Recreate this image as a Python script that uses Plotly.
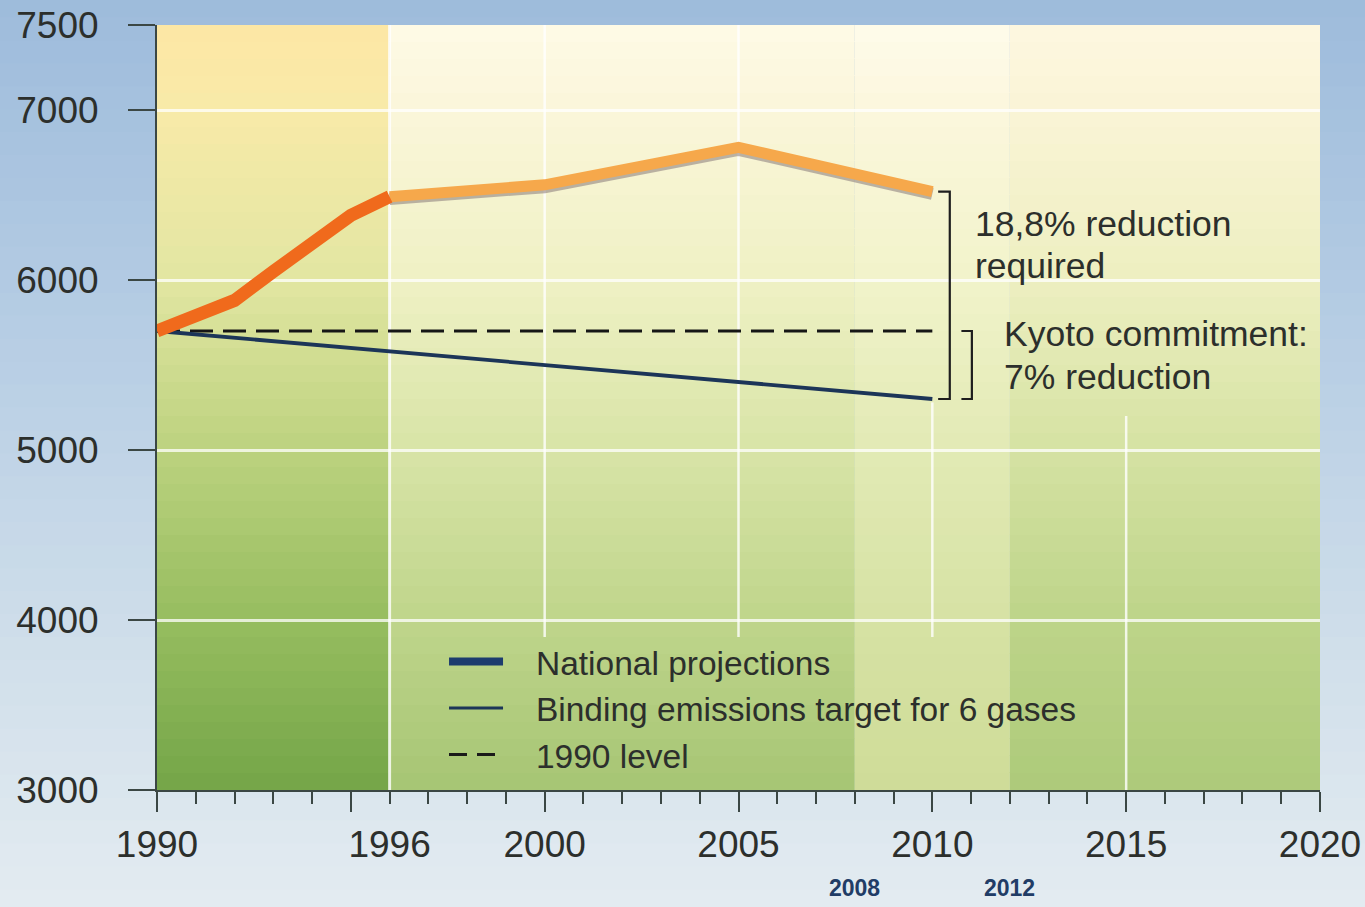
import plotly.graph_objects as go

# Greenhouse-gas emissions, Mt CO2-equivalent
HIST_YEARS = [1990, 1991, 1992, 1993, 1994, 1995, 1996]
HIST_VALUES = [5700, 5800, 5880, 6050, 6220, 6380, 6490]
PROJ_YEARS = [1996, 2000, 2005, 2010]
PROJ_VALUES = [6490, 6560, 6780, 6520]
TARGET_YEARS = [1990, 2010]
TARGET_VALUES = [5700, 5300]
BASE_YEARS = [1990, 2010]
BASE_VALUES = [5700, 5700]

X_LABEL_YEARS = [1990, 1996, 2000, 2005, 2010, 2015, 2020]
X_MAJOR_TICKS = [1990, 1995, 2000, 2005, 2010, 2015, 2020]
Y_TICKS = [3000, 4000, 5000, 6000, 7000, 7500]
PERIOD_YEARS = [2008, 2012]

LEGEND_NAMES = ["National projections", "Binding emissions target for 6 gases", "1990 level"]
NOTE_REQUIRED = ["18,8% reduction", "required"]
NOTE_KYOTO = ["Kyoto commitment:", "7% reduction"]

X_RANGE = [1990, 2020]
Y_RANGE = [3000, 7500]

FONT = "Liberation Sans, Arial, sans-serif"
TEXT = "#2c2f2c"
AXIS = "#3b4744"
NAVY = "#1c3558"
KEY_GAP = "\u00a0\u00a0\u00a0"  # space between legend key and its label

# vertical colour gradients of the plot background, one per period band
BANDS = [
    (1990, 1996, [(3000, "#74a548"), (4000, "#96bd5f"), (5000, "#bcd27f"),
                  (6000, "#e2e6a2"), (7000, "#f8eaa8"), (7500, "#fde7a5")]),
    (1996, 2008, [(3000, "#a6c574"), (4000, "#bfd58b"), (5000, "#d8e4a7"),
                  (6000, "#eff1c4"), (7000, "#fbf6da"), (7500, "#fefae6")]),
    (2008, 2012, [(3000, "#cfdc98"), (4000, "#d6e2a4"), (5000, "#e2eab5"),
                  (6000, "#f1f3ca"), (7000, "#fcf7dd"), (7500, "#fefbea")]),
    (2012, 2020, [(3000, "#adca7a"), (4000, "#bdd489"), (5000, "#d5e2a3"),
                  (6000, "#edefc0"), (7000, "#faf4d6"), (7500, "#fdf7e0")]),
]
PAGE_STOPS = [(-0.16, "#e4ecf1"), (0.2, "#cfdeea"), (0.6, "#b6cde4"), (1.04, "#9dbbdb")]


def hex_rgb(h):
    h = h.lstrip("#")
    return [int(h[i:i + 2], 16) for i in (0, 2, 4)]


def blend(stops, v):
    for (a, ca), (b, cb) in zip(stops, stops[1:]):
        if a <= v <= b:
            t = (v - a) / (b - a)
            c0, c1 = hex_rgb(ca), hex_rgb(cb)
            return "rgb({},{},{})".format(*[round(p + (q - p) * t) for p, q in zip(c0, c1)])
    return stops[-1][1] if v > stops[-1][0] else stops[0][1]


shapes = []

# page background (blue wash behind everything)
n_page = 40
lo, hi = PAGE_STOPS[0][0], PAGE_STOPS[-1][0]
step = (hi - lo) / n_page
for i in range(n_page):
    y0 = lo + i * step
    shapes.append(dict(type="rect", xref="paper", yref="paper", x0=-0.3, x1=1.3,
                       y0=y0, y1=y0 + step * 1.05, layer="below", line_width=0,
                       fillcolor=blend(PAGE_STOPS, y0 + step / 2)))

# plot-area gradient bands
strip = 100
for x0, x1, stops in BANDS:
    v = Y_RANGE[0]
    while v < Y_RANGE[1]:
        shapes.append(dict(type="rect", xref="x", yref="y", x0=x0, x1=x1,
                           y0=v, y1=min(v + strip * 1.05, Y_RANGE[1]), layer="below",
                           line_width=0, fillcolor=blend(stops, v + strip / 2)))
        v += strip

# vertical white grid lines
V_GRID = [(1996, 3000, 7500, 3), (2000, 3900, 7500, 2.5), (2005, 3900, 7500, 2.5),
          (2010, 3900, 5280, 2.5), (2015, 3000, 5200, 2.5)]
for gx, gy0, gy1, w in V_GRID:
    shapes.append(dict(type="line", xref="x", yref="y", x0=gx, x1=gx, y0=gy0, y1=gy1,
                       layer="between", line=dict(color="rgba(255,255,255,0.8)", width=w)))


# brackets marking the required and committed reductions in 2010
def bracket(x_left, x_right, y_top, y_bottom):
    path = "M {a},{t} L {b},{t} L {b},{u} L {a},{u}".format(a=x_left, b=x_right, t=y_top, u=y_bottom)
    return dict(type="path", xref="x", yref="y", path=path, layer="above",
                line=dict(color="#1e1e1e", width=2.2))


shapes.append(bracket(2010.15, 2010.45, PROJ_VALUES[-1], TARGET_VALUES[-1]))
shapes.append(bracket(2010.75, 2011.02, BASE_VALUES[-1], TARGET_VALUES[-1]))

fig = go.Figure()

# legend keys
fig.add_trace(go.Scatter(x=[None], y=[None], mode="lines", name=KEY_GAP + LEGEND_NAMES[0],
                         line=dict(color="#1d3c6e", width=8)))
fig.add_trace(go.Scatter(x=[None], y=[None], mode="lines", name=KEY_GAP + LEGEND_NAMES[1],
                         line=dict(color=NAVY, width=3)))
fig.add_trace(go.Scatter(x=[None], y=[None], mode="lines", name=KEY_GAP + LEGEND_NAMES[2],
                         line=dict(color="#1a1a1a", width=3, dash="18px,10px")))

# 1990 level and binding target
fig.add_trace(go.Scatter(x=BASE_YEARS, y=BASE_VALUES, mode="lines", showlegend=False,
                         line=dict(color="#161616", width=3.2, dash="23px,10px"),
                         hoverinfo="skip"))
fig.add_trace(go.Scatter(x=TARGET_YEARS, y=TARGET_VALUES, mode="lines", showlegend=False,
                         line=dict(color=NAVY, width=3.8), hoverinfo="skip"))

# projected emissions with a soft drop shadow
fig.add_trace(go.Scatter(x=PROJ_YEARS, y=[v - 14 for v in PROJ_VALUES], mode="lines",
                         showlegend=False, line=dict(color="rgba(135,120,120,0.55)", width=12),
                         hoverinfo="skip"))
fig.add_trace(go.Scatter(x=PROJ_YEARS, y=PROJ_VALUES, mode="lines", showlegend=False,
                         line=dict(color="#f6a84b", width=11)))
# recorded emissions
fig.add_trace(go.Scatter(x=HIST_YEARS, y=HIST_VALUES, mode="lines", showlegend=False,
                         line=dict(color="#f06a1c", width=13)))

# second x axis carries only the labelled years
fig.add_trace(go.Scatter(x=[None], y=[None], xaxis="x2", showlegend=False, hoverinfo="skip"))

annotations = []
for i, line in enumerate(NOTE_REQUIRED):
    annotations.append(dict(x=2011.05, y=6330 - i * 245, xref="x", yref="y", text=line,
                            showarrow=False, xanchor="left", yanchor="middle",
                            font=dict(family=FONT, size=35.5, color=TEXT)))
for i, line in enumerate(NOTE_KYOTO):
    annotations.append(dict(x=2011.8, y=5680 - i * 250, xref="x", yref="y", text=line,
                            showarrow=False, xanchor="left", yanchor="middle",
                            font=dict(family=FONT, size=35.5, color=TEXT)))
for yr in PERIOD_YEARS:
    annotations.append(dict(x=yr, y=-0.128, xref="x", yref="paper", text="<b>%d</b>" % yr,
                            showarrow=False, xanchor="center", yanchor="middle",
                            font=dict(family=FONT, size=23, color="#213c66")))

fig.update_layout(
    width=1365, height=907, autosize=False,
    margin=dict(l=157, r=45, t=25, b=117),
    paper_bgcolor="#c0d4e8", plot_bgcolor="rgba(0,0,0,0)",
    font=dict(family=FONT, color=TEXT),
    shapes=shapes, annotations=annotations,
    showlegend=True,
    legend=dict(x=0.2468, y=0.205, xanchor="left", yanchor="top",
                bgcolor="rgba(0,0,0,0)", font=dict(family=FONT, size=33.5, color=TEXT),
                itemwidth=54, tracegroupgap=0),
    xaxis=dict(range=X_RANGE, showgrid=False, zeroline=False, automargin=False,
               showline=True, linecolor=AXIS, linewidth=2,
               tickmode="array", tickvals=X_MAJOR_TICKS, showticklabels=False,
               ticks="outside", ticklen=20, tickwidth=2, tickcolor=AXIS,
               minor=dict(dtick=1, tick0=1990, ticks="outside", ticklen=12,
                          tickwidth=2, tickcolor=AXIS, showgrid=False)),
    xaxis2=dict(range=X_RANGE, overlaying="x", anchor="y", side="bottom", automargin=False,
                showgrid=False, zeroline=False, showline=False, ticks="",
                tickmode="array", tickvals=X_LABEL_YEARS,
                ticktext=[str(v) for v in X_LABEL_YEARS],
                tickfont=dict(family=FONT, size=37, color=TEXT), ticklabelstandoff=29),
    yaxis=dict(range=Y_RANGE, zeroline=False, showline=True, linecolor=AXIS, linewidth=2,
               automargin=False,
               tickmode="array", tickvals=Y_TICKS, ticks="outside", ticklen=27,
               tickwidth=2, tickcolor=AXIS, ticklabelstandoff=22,
               tickfont=dict(family=FONT, size=37, color=TEXT),
               showgrid=True, gridcolor="rgba(255,255,255,0.75)", gridwidth=3),
)

fig.write_html("out.html")
